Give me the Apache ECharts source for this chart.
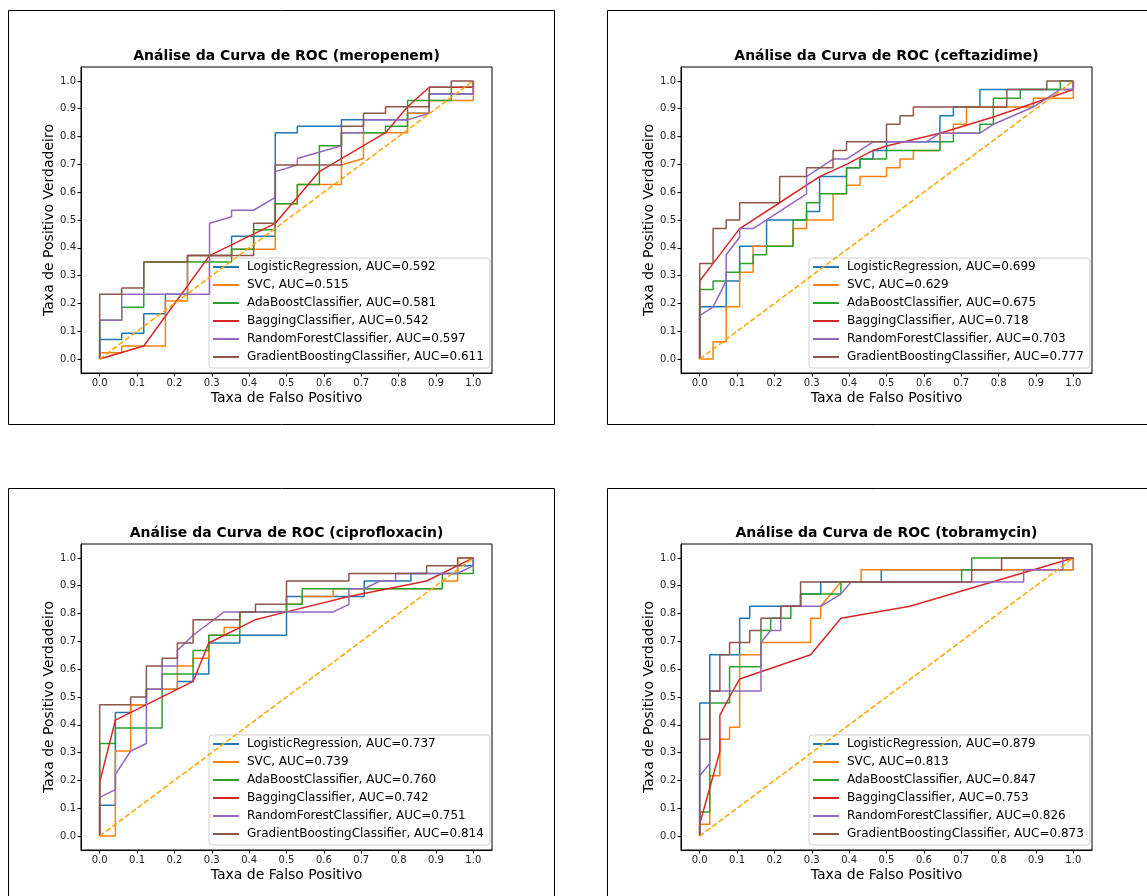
<!DOCTYPE html>
<html>
<head>
<meta charset="utf-8">
<script src="https://cdn.jsdelivr.net/npm/echarts@6/dist/echarts.min.js"></script>
<style>
  html, body { margin: 0; padding: 0; background: #fff; }
  #chart { width: 1147px; height: 896px; }
</style>
</head>
<body>
<div id="chart"></div>
<script>
// ---- data: ROC points [fpr, tpr] ----
var modelNames = ['LogisticRegression', 'SVC', 'AdaBoostClassifier', 'BaggingClassifier', 'RandomForestClassifier', 'GradientBoostingClassifier'];
var drugs = ['meropenem', 'ceftazidime', 'ciprofloxacin', 'tobramycin'];
var tickValues = [0, 0.1, 0.2, 0.3, 0.4, 0.5, 0.6, 0.7, 0.8, 0.9, 1.0];

var aucMero = ['0.592', '0.515', '0.581', '0.542', '0.597', '0.611'];
var aucCeft = ['0.699', '0.629', '0.675', '0.718', '0.703', '0.777'];
var aucCipro = ['0.737', '0.739', '0.760', '0.742', '0.751', '0.814'];
var aucTobra = ['0.879', '0.813', '0.847', '0.753', '0.826', '0.873'];

// meropenem
var meroLR = [[0,0],[0,0.07],[0.059,0.07],[0.059,0.093],[0.118,0.093],[0.118,0.163],[0.176,0.163],[0.176,0.233],[0.235,0.233],[0.235,0.372],[0.353,0.372],[0.353,0.442],[0.47,0.442],[0.47,0.814],[0.529,0.814],[0.529,0.837],[0.647,0.837],[0.647,0.86],[0.824,0.86],[0.824,0.884],[0.882,0.884],[0.882,0.953],[1,0.953],[1,1]];
var meroSVC = [[0,0],[0,0.023],[0.059,0.023],[0.059,0.047],[0.176,0.047],[0.176,0.209],[0.235,0.209],[0.235,0.372],[0.353,0.372],[0.353,0.395],[0.47,0.395],[0.47,0.558],[0.529,0.558],[0.529,0.628],[0.647,0.628],[0.647,0.698],[0.706,0.721],[0.706,0.814],[0.824,0.814],[0.824,0.884],[0.882,0.884],[0.882,0.93],[1,0.93],[1,1]];
var meroAda = [[0,0],[0,0.14],[0.059,0.14],[0.059,0.186],[0.118,0.186],[0.118,0.349],[0.353,0.349],[0.353,0.395],[0.412,0.395],[0.412,0.465],[0.47,0.465],[0.47,0.558],[0.529,0.558],[0.529,0.628],[0.588,0.628],[0.588,0.767],[0.647,0.767],[0.647,0.814],[0.765,0.814],[0.765,0.837],[0.824,0.837],[0.824,0.93],[0.941,0.93],[0.941,0.977],[1,0.977],[1,1]];
var meroBag = [[0,0],[0.118,0.047],[0.294,0.372],[0.47,0.488],[0.588,0.674],[0.706,0.767],[0.765,0.814],[0.824,0.907],[0.882,0.977],[1,0.977],[1,1]];
var meroRF = [[0,0],[0,0.14],[0.059,0.14],[0.059,0.233],[0.294,0.233],[0.294,0.488],[0.353,0.512],[0.353,0.535],[0.412,0.535],[0.47,0.581],[0.47,0.674],[0.529,0.698],[0.529,0.721],[0.647,0.767],[0.647,0.814],[0.706,0.814],[0.706,0.86],[0.824,0.86],[0.882,0.884],[0.882,0.953],[1,0.953],[1,1]];
var meroGB = [[0,0],[0,0.233],[0.059,0.233],[0.059,0.256],[0.118,0.256],[0.118,0.349],[0.235,0.349],[0.235,0.372],[0.412,0.372],[0.412,0.488],[0.47,0.488],[0.47,0.698],[0.647,0.698],[0.647,0.837],[0.706,0.837],[0.706,0.884],[0.765,0.884],[0.765,0.907],[0.882,0.907],[0.882,0.977],[0.941,0.977],[0.941,1],[1,1]];

// ceftazidime
var ceftLR = [[0,0],[0,0.188],[0.071,0.188],[0.071,0.281],[0.107,0.281],[0.107,0.406],[0.179,0.406],[0.179,0.5],[0.286,0.5],[0.286,0.531],[0.321,0.531],[0.321,0.656],[0.393,0.656],[0.393,0.688],[0.429,0.688],[0.429,0.719],[0.464,0.719],[0.464,0.75],[0.5,0.75],[0.5,0.781],[0.643,0.781],[0.643,0.875],[0.679,0.875],[0.679,0.906],[0.75,0.906],[0.75,0.969],[1,0.969],[1,1]];
var ceftSVC = [[0,0],[0.036,0],[0.036,0.062],[0.071,0.062],[0.071,0.188],[0.107,0.188],[0.107,0.312],[0.143,0.312],[0.143,0.406],[0.25,0.406],[0.25,0.469],[0.286,0.469],[0.286,0.5],[0.357,0.5],[0.357,0.594],[0.393,0.594],[0.393,0.625],[0.429,0.625],[0.429,0.656],[0.5,0.656],[0.5,0.688],[0.536,0.688],[0.536,0.719],[0.572,0.719],[0.572,0.75],[0.643,0.75],[0.643,0.812],[0.679,0.812],[0.679,0.844],[0.714,0.844],[0.714,0.906],[0.893,0.906],[0.893,0.938],[1,0.938],[1,1]];
var ceftAda = [[0,0],[0,0.25],[0.036,0.25],[0.036,0.281],[0.071,0.281],[0.071,0.312],[0.107,0.312],[0.107,0.344],[0.143,0.344],[0.143,0.375],[0.179,0.375],[0.179,0.406],[0.25,0.406],[0.25,0.5],[0.286,0.5],[0.286,0.562],[0.321,0.562],[0.321,0.594],[0.393,0.594],[0.393,0.688],[0.429,0.688],[0.429,0.719],[0.5,0.719],[0.5,0.75],[0.643,0.75],[0.643,0.781],[0.679,0.781],[0.679,0.812],[0.75,0.812],[0.75,0.844],[0.786,0.844],[0.786,0.938],[0.858,0.938],[0.858,0.969],[0.965,0.969],[0.965,1],[1,1]];
var ceftBag = [[0,0],[0,0.281],[0.036,0.344],[0.107,0.469],[0.214,0.562],[0.286,0.625],[0.321,0.656],[0.393,0.7],[0.464,0.75],[0.5,0.766],[0.643,0.812],[0.786,0.87],[1,0.969],[1,1]];
var ceftRF = [[0,0],[0,0.156],[0.036,0.188],[0.071,0.281],[0.071,0.375],[0.107,0.438],[0.107,0.469],[0.143,0.469],[0.286,0.594],[0.286,0.656],[0.357,0.719],[0.393,0.719],[0.464,0.781],[0.607,0.781],[0.643,0.812],[0.75,0.812],[0.786,0.844],[0.893,0.906],[0.964,0.969],[1,0.969],[1,1]];
var ceftGB = [[0,0],[0,0.344],[0.036,0.344],[0.036,0.469],[0.071,0.469],[0.071,0.5],[0.107,0.5],[0.107,0.562],[0.214,0.562],[0.214,0.656],[0.286,0.656],[0.286,0.688],[0.357,0.688],[0.357,0.75],[0.393,0.75],[0.393,0.781],[0.5,0.781],[0.5,0.844],[0.536,0.844],[0.536,0.875],[0.572,0.875],[0.572,0.906],[0.822,0.906],[0.822,0.969],[0.929,0.969],[0.929,1],[1,1]];

// ciprofloxacin
var ciproLR = [[0,0],[0,0.111],[0.042,0.111],[0.042,0.444],[0.083,0.444],[0.083,0.472],[0.125,0.472],[0.125,0.528],[0.208,0.528],[0.208,0.556],[0.25,0.556],[0.25,0.583],[0.292,0.583],[0.292,0.694],[0.375,0.694],[0.375,0.722],[0.5,0.722],[0.5,0.861],[0.708,0.861],[0.708,0.917],[0.833,0.917],[0.833,0.944],[0.958,0.944],[0.958,0.972],[1,0.972],[1,1]];
var ciproSVC = [[0,0],[0.042,0],[0.042,0.306],[0.083,0.306],[0.083,0.472],[0.125,0.472],[0.125,0.528],[0.208,0.528],[0.208,0.611],[0.25,0.611],[0.25,0.639],[0.292,0.639],[0.292,0.722],[0.333,0.722],[0.333,0.75],[0.375,0.75],[0.375,0.806],[0.5,0.806],[0.5,0.833],[0.542,0.833],[0.542,0.861],[0.625,0.861],[0.625,0.889],[0.917,0.889],[0.917,0.917],[0.958,0.917],[0.958,1],[1,1]];
var ciproAda = [[0,0],[0,0.333],[0.042,0.333],[0.042,0.389],[0.167,0.389],[0.167,0.583],[0.25,0.583],[0.25,0.667],[0.292,0.667],[0.292,0.722],[0.375,0.722],[0.375,0.806],[0.5,0.806],[0.5,0.833],[0.542,0.833],[0.542,0.889],[0.917,0.889],[0.917,0.944],[1,0.944],[1,1]];
var ciproBag = [[0,0],[0,0.194],[0.042,0.417],[0.25,0.556],[0.292,0.694],[0.417,0.778],[0.5,0.806],[0.667,0.861],[0.875,0.917],[1,1]];
var ciproRF = [[0,0],[0,0.139],[0.042,0.167],[0.042,0.222],[0.083,0.306],[0.125,0.333],[0.125,0.528],[0.167,0.528],[0.167,0.611],[0.208,0.611],[0.208,0.667],[0.25,0.722],[0.333,0.806],[0.625,0.806],[0.667,0.833],[0.667,0.889],[0.708,0.889],[0.75,0.917],[0.792,0.917],[0.792,0.944],[0.958,0.944],[1,0.972],[1,1]];
var ciproGB = [[0,0],[0,0.472],[0.083,0.472],[0.083,0.5],[0.125,0.5],[0.125,0.611],[0.167,0.611],[0.167,0.639],[0.208,0.639],[0.208,0.694],[0.25,0.694],[0.25,0.778],[0.375,0.778],[0.375,0.806],[0.417,0.806],[0.417,0.833],[0.5,0.833],[0.5,0.917],[0.667,0.917],[0.667,0.944],[0.875,0.944],[0.875,0.972],[0.958,0.972],[0.958,1],[1,1]];

// tobramycin
var tobraLR = [[0,0],[0,0.478],[0.027,0.478],[0.027,0.652],[0.107,0.652],[0.107,0.783],[0.134,0.783],[0.134,0.826],[0.27,0.826],[0.27,0.87],[0.324,0.87],[0.324,0.913],[0.486,0.913],[0.486,0.957],[1,0.957],[1,1]];
var tobraSVC = [[0,0],[0,0.043],[0.027,0.043],[0.027,0.217],[0.054,0.217],[0.054,0.348],[0.08,0.348],[0.08,0.391],[0.107,0.391],[0.107,0.652],[0.164,0.652],[0.164,0.696],[0.297,0.696],[0.297,0.783],[0.324,0.783],[0.324,0.826],[0.351,0.87],[0.378,0.913],[0.432,0.913],[0.432,0.957],[1,0.957],[1,1]];
var tobraAda = [[0,0],[0,0.087],[0.027,0.087],[0.027,0.478],[0.08,0.478],[0.08,0.609],[0.164,0.609],[0.164,0.739],[0.19,0.739],[0.19,0.783],[0.244,0.783],[0.244,0.826],[0.27,0.826],[0.27,0.87],[0.378,0.87],[0.378,0.913],[0.701,0.913],[0.701,0.957],[0.728,0.957],[0.728,1],[1,1]];
var tobraBag = [[0,0],[0,0.043],[0.054,0.304],[0.054,0.435],[0.08,0.5],[0.107,0.565],[0.297,0.652],[0.378,0.783],[0.563,0.826],[1,1]];
var tobraRF = [[0,0],[0,0.217],[0.027,0.261],[0.027,0.522],[0.164,0.522],[0.164,0.696],[0.19,0.739],[0.217,0.739],[0.217,0.826],[0.324,0.826],[0.378,0.87],[0.405,0.913],[0.867,0.913],[0.867,0.957],[0.972,0.957],[0.972,1],[1,1]];
var tobraGB = [[0,0],[0,0.348],[0.027,0.348],[0.027,0.522],[0.054,0.522],[0.054,0.652],[0.08,0.652],[0.08,0.696],[0.134,0.696],[0.134,0.739],[0.164,0.739],[0.164,0.783],[0.217,0.783],[0.217,0.826],[0.27,0.826],[0.27,0.913],[0.728,0.913],[0.728,0.957],[0.808,0.957],[0.808,1],[1,1]];

var chanceLine = [[0,0],[1,1]];

var curves = [
  [meroLR, meroSVC, meroAda, meroBag, meroRF, meroGB],
  [ceftLR, ceftSVC, ceftAda, ceftBag, ceftRF, ceftGB],
  [ciproLR, ciproSVC, ciproAda, ciproBag, ciproRF, ciproGB],
  [tobraLR, tobraSVC, tobraAda, tobraBag, tobraRF, tobraGB]
];
var aucs = [aucMero, aucCeft, aucCipro, aucTobra];

var colors = ['#1f77b4', '#ff7f0e', '#2ca02c', '#d62728', '#9467bd', '#8c564b'];
var font = 'DejaVu Sans';

var chartDom = document.getElementById('chart');
var myChart = echarts.init(chartDom, null, { renderer: 'canvas' });

// plot-area positions of the 4 panels
var panels = [
  { left: 81, top: 67 },
  { left: 681, top: 67 },
  { left: 81, top: 544 },
  { left: 681, top: 544 }
];
var pw = 411, ph = 306;
var frames = [
  { x: 8, y: 10, w: 546, h: 414 },
  { x: 607, y: 10, w: 560, h: 414 },
  { x: 8, y: 488, w: 546, h: 430 },
  { x: 607, y: 488, w: 560, h: 430 }
];

var grid = [], xAxis = [], yAxis = [], series = [], title = [], legend = [], graphic = [];

frames.forEach(function (f) {
  graphic.push({
    type: 'rect', silent: true, z: -10,
    shape: { x: f.x + 0.5, y: f.y + 0.5, width: f.w, height: f.h },
    style: { fill: '#fff', stroke: '#000', lineWidth: 1 }
  });
});

panels.forEach(function (p, i) {
  grid.push({
    left: p.left, top: p.top, width: pw, height: ph,
    show: true, borderColor: '#000', borderWidth: 1, backgroundColor: 'transparent'
  });

  var axisCommon = {
    type: 'value', gridIndex: i, min: -0.05, max: 1.05,
    splitLine: { show: false },
    axisLine: { show: true, onZero: false, lineStyle: { color: '#000', width: 1 } },
    axisTick: { show: true, customValues: tickValues, length: 3.5, lineStyle: { color: '#000' } },
    axisLabel: {
      customValues: tickValues, fontSize: 10, color: '#222', fontFamily: font, margin: 5,
      formatter: function (v) { return v.toFixed(1); }
    },
    nameLocation: 'middle',
    nameTextStyle: { fontSize: 14, fontFamily: font, color: '#000' }
  };
  xAxis.push(Object.assign({}, axisCommon, { name: 'Taxa de Falso Positivo', nameGap: 18 }));
  yAxis.push(Object.assign({}, axisCommon, { name: 'Taxa de Positivo Verdadeiro', nameGap: 24 }));

  title.push({
    text: 'Análise da Curva de ROC (' + drugs[i] + ')',
    left: p.left + pw / 2, top: p.top - 18, textAlign: 'center',
    padding: 0,
    textStyle: { fontSize: 14, fontWeight: 'bold', fontFamily: font, color: '#000' }
  });

  var names = [];
  curves[i].forEach(function (pts, j) {
    var nm = modelNames[j] + ', AUC=' + aucs[i][j];
    names.push(nm);
    series.push({
      name: nm, type: 'line', xAxisIndex: i, yAxisIndex: i,
      data: pts, symbol: 'none', showSymbol: false,
      lineStyle: { color: colors[j], width: 1.5 },
      itemStyle: { color: colors[j] },
      z: 3 + j, animation: false
    });
  });

  series.push({
    name: 'chance' + i, type: 'line', xAxisIndex: i, yAxisIndex: i,
    data: chanceLine, symbol: 'none', showSymbol: false,
    lineStyle: { color: '#FFA500', width: 1.5, type: [5.5, 2.4] },
    z: 10, animation: false
  });

  legend.push({
    data: names, orient: 'vertical',
    left: p.left + 128, top: p.top + 191,
    itemWidth: 26, itemHeight: 13, itemGap: 6,
    padding: [3, 6, 5, 3],
    selectedMode: false,
    backgroundColor: 'rgba(255,255,255,0.8)',
    borderColor: '#d0d0d0', borderWidth: 1, borderRadius: 3,
    itemStyle: { opacity: 0, borderWidth: 0 },
    textStyle: { fontSize: 12, fontFamily: font, color: '#000', padding: [0, 0, 0, 3] }
  });
});

var option = {
  backgroundColor: '#fff',
  animation: false,
  graphic: graphic,
  title: title,
  legend: legend,
  grid: grid,
  xAxis: xAxis,
  yAxis: yAxis,
  series: series
};

option && myChart.setOption(option);
window.addEventListener('resize', function () {
  myChart.resize();
});
</script>
</body>
</html>
